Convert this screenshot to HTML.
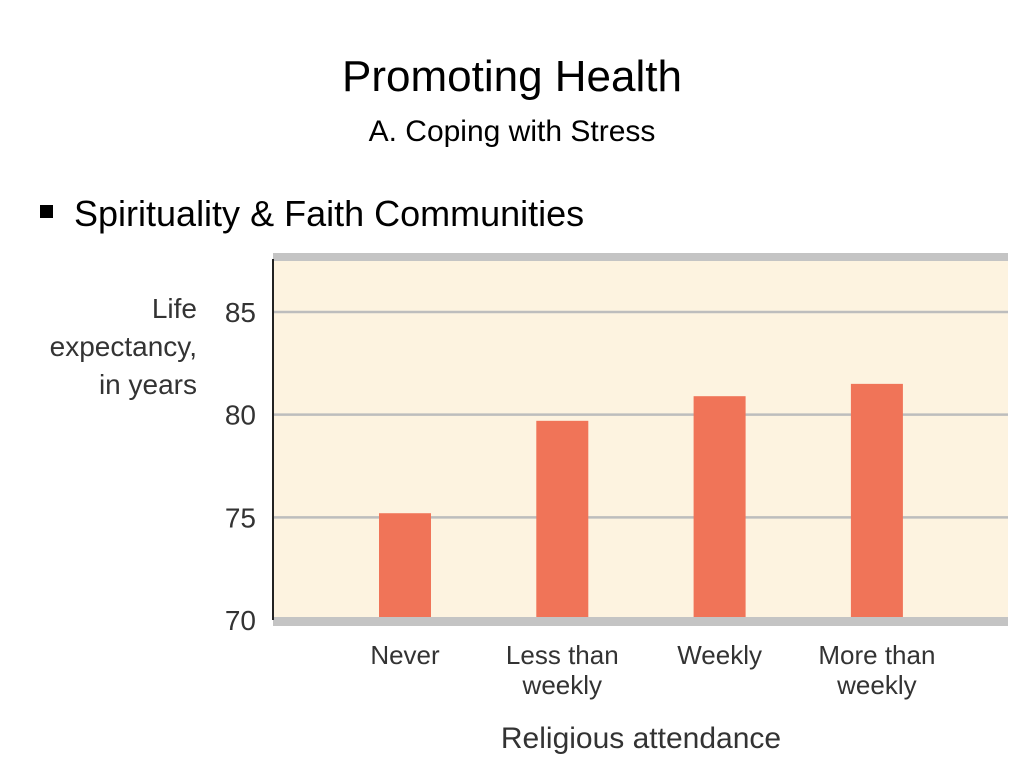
<!DOCTYPE html>
<html><head><meta charset="utf-8"><style>
body{margin:0;width:1024px;height:768px;background:#fff;overflow:hidden;font-family:"Liberation Sans","DejaVu Sans",sans-serif}
svg{position:absolute;left:0;top:0}
</style></head><body>
<svg width="1024" height="768">
<text x="512" y="91" text-anchor="middle" font-size="44" fill="#000">Promoting Health</text>
<text x="512" y="141" text-anchor="middle" font-size="30" fill="#000">A. Coping with Stress</text>
<rect x="40" y="205" width="13" height="13" fill="#000"/>
<text x="74" y="226" font-size="36" fill="#000">Spirituality &amp; Faith Communities</text>
<g id="chart"></g>
</svg>
<script>
const categories=[["Never"],["Less than","weekly"],["Weekly"],["More than","weekly"]];
const values=[75.2,79.7,80.9,81.5];
const ticks=[70,75,80,85];
const NS="http://www.w3.org/2000/svg";
const g=document.getElementById('chart');
const x0=273,x1=1008,yTop=253;
function y(v){return 620-(v-70)*(620-312)/15;}
function xc(i){return 405+i*157.3;}
function mk(t,a,p){const e=document.createElementNS(NS,t);for(const k in a)e.setAttribute(k,a[k]);(p||g).appendChild(e);return e;}
let e;
e=mk('rect',{x:x0,y:yTop+4,width:x1-x0,height:620-yTop-4,fill:'#fdf3e0'});


e=mk('rect',{x:x0,y:yTop,width:x1-x0,height:8,fill:'#c4c4c4'});


ticks.forEach(t=>{
  if(t>70){
    e=mk('line',{x1:x0,x2:x1,y1:y(t),y2:y(t),stroke:'#bdbdbd','stroke-width':2.5});
    
    
  }
  e=mk('text',{x:256,y:y(t)+10,'text-anchor':'end','font-size':28,fill:'#333'});
  e.textContent=t;
  
  
});
values.forEach((v,i)=>{
  e=mk('rect',{x:xc(i)-26,y:y(v),width:52,height:620-y(v),fill:'#f07458'});
  
  
  categories[i].forEach((s,j)=>{
    e=mk('text',{x:xc(i),y:664+j*30,'text-anchor':'middle','font-size':26,fill:'#333'});
    e.textContent=s;
    
    
  });
});
e=mk('rect',{x:x0,y:617,width:x1-x0,height:9,fill:'#c4c4c4'});


e=mk('line',{x1:x0,x2:x0,y1:259,y2:620,stroke:'#222','stroke-width':2});


["Life","expectancy,","in years"].forEach((s,j)=>{
  e=mk('text',{x:197,y:318+j*38,'text-anchor':'end','font-size':28,fill:'#333'});
  e.textContent=s;
  
  
});
e=mk('text',{x:641,y:748,'text-anchor':'middle','font-size':30,fill:'#333'});
e.textContent="Religious attendance";


</script>
</body></html>
